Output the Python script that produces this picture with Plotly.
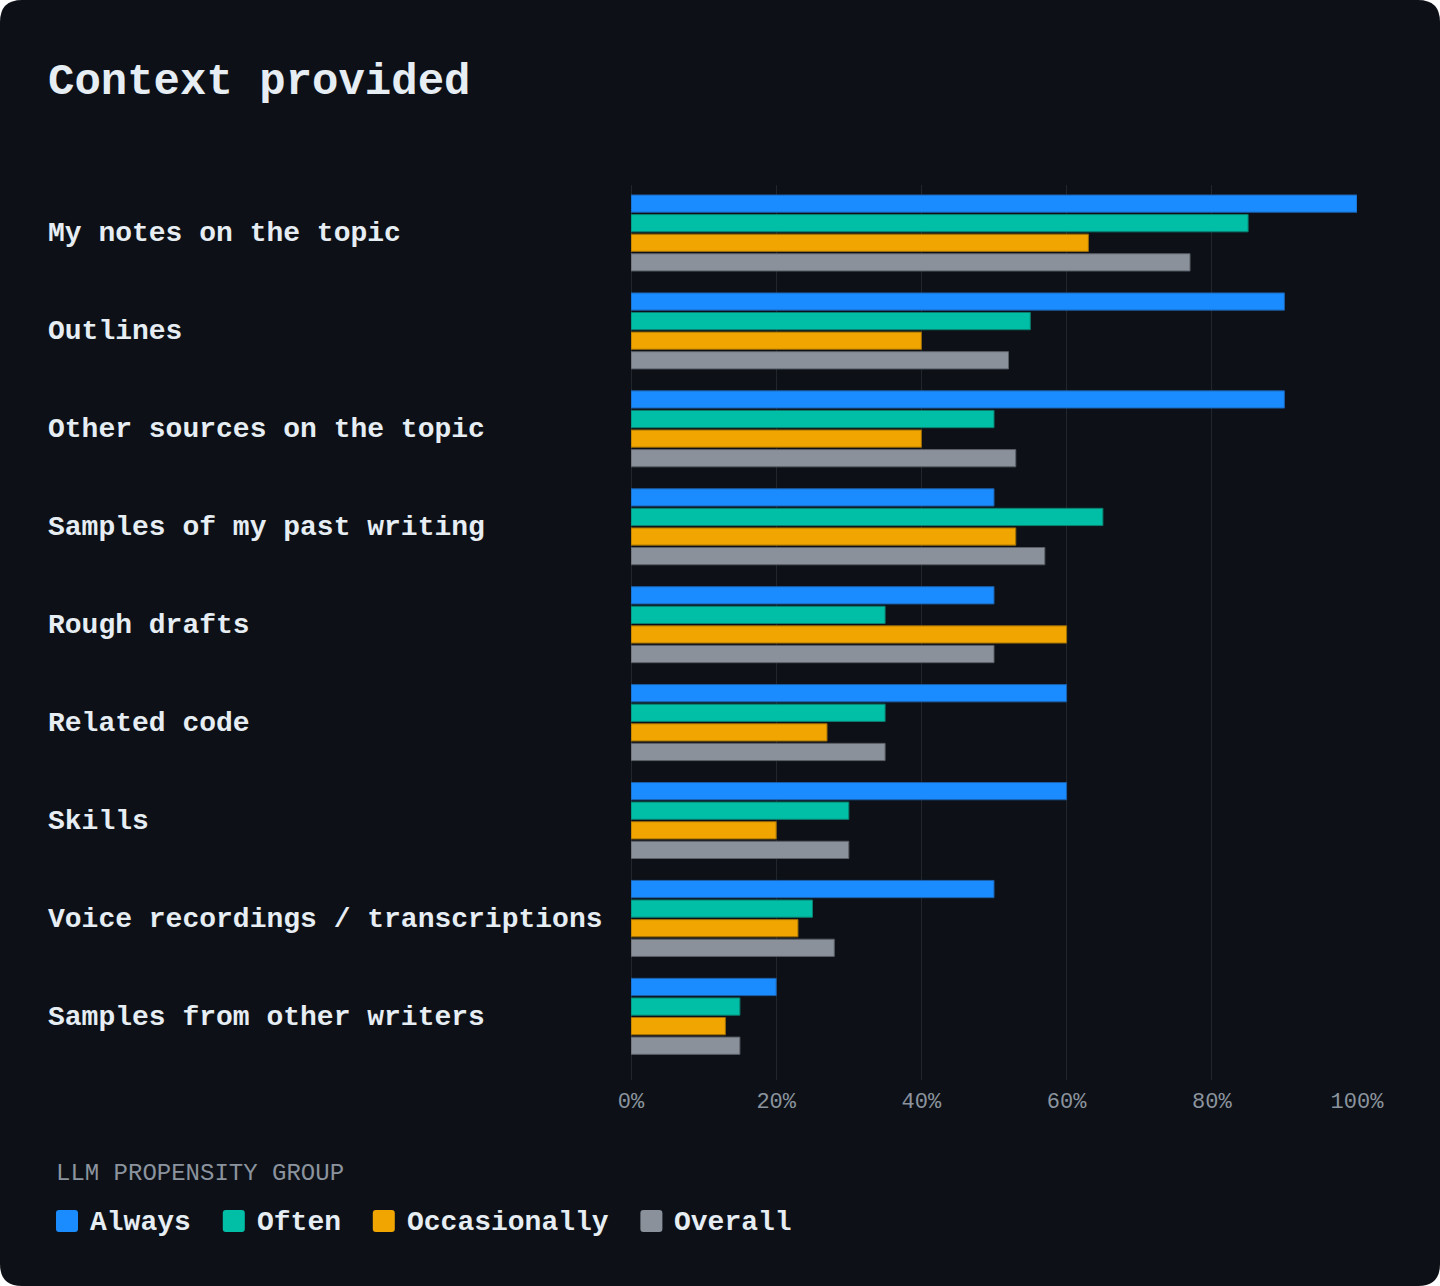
import plotly.graph_objects as go

W, H = 1440, 1286

categories = [
    "My notes on the topic",
    "Outlines",
    "Other sources on the topic",
    "Samples of my past writing",
    "Rough drafts",
    "Related code",
    "Skills",
    "Voice recordings / transcriptions",
    "Samples from other writers",
]
series_names = ["Always", "Often", "Occasionally", "Overall"]
always = [100, 90, 90, 50, 50, 60, 60, 50, 20]
often = [85, 55, 50, 65, 35, 35, 30, 25, 15]
occasionally = [63, 40, 40, 53, 60, 27, 20, 23, 13]
overall = [77, 52, 53, 57, 50, 35, 30, 28, 15]
x_ticks = [0, 20, 40, 60, 80, 100]
x_tick_text = [f"{v}%" for v in x_ticks]

colors = ["#1a8cff", "#00bfa6", "#f0a500", "#8b919b"]
edge_colors = ["#1d5fa8", "#0b7f6f", "#9c6c05", "#5a5f67"]

BG = "#0d1117"
TEXT = "#e6edf3"
MUTED = "#8b949e"
GRID = "#21262d"
FONT = "Courier New, Courier, Nimbus Mono PS, Liberation Mono, monospace"


def px(x):
    return x / W


def py(y):
    return 1 - y / H


def rrect(x0, y0, x1, y1, r):
    rx, ry = r / W, r / H
    X0, X1 = px(x0), px(x1)
    Y0, Y1 = py(y1), py(y0)  # bottom, top in paper
    return (
        f"M{X0+rx},{Y0} L{X1-rx},{Y0} Q{X1},{Y0} {X1},{Y0+ry} "
        f"L{X1},{Y1-ry} Q{X1},{Y1} {X1-rx},{Y1} L{X0+rx},{Y1} "
        f"Q{X0},{Y1} {X0},{Y1-ry} L{X0},{Y0+ry} Q{X0},{Y0} {X0+rx},{Y0} Z"
    )


fig = go.Figure()
for name, vals, c, ec in zip(series_names, [always, often, occasionally, overall], colors, edge_colors):
    fig.add_trace(go.Bar(
        name=name, x=vals, y=categories, orientation="h",
        marker=dict(color=c, line=dict(color=ec, width=1)),
        showlegend=False,
    ))

shapes = [dict(type="path", xref="paper", yref="paper", path=rrect(0, 0, W, H, 22),
               fillcolor=BG, line=dict(width=0), layer="below")]
annotations = []

# Title
annotations.append(dict(text="<b>Context provided</b>", x=px(46), y=py(82), xref="paper", yref="paper",
                        xanchor="left", yanchor="middle", showarrow=False,
                        font=dict(family=FONT, size=44, color=TEXT)))

# Category labels, left-aligned
for cat in categories:
    annotations.append(dict(text=f"<b>{cat}</b>", x=px(46), y=cat, xref="paper", yref="y",
                            xanchor="left", yanchor="middle", showarrow=False, yshift=-1,
                            font=dict(family=FONT, size=28, color=TEXT)))

# Custom legend
annotations.append(dict(text="LLM PROPENSITY GROUP", x=px(54), y=py(1173), xref="paper", yref="paper",
                        xanchor="left", yanchor="middle", showarrow=False,
                        font=dict(family=FONT, size=24, color=MUTED)))
lx = 56
char_w = 16.8
for name, c in zip(series_names, colors):
    shapes.append(dict(type="path", xref="paper", yref="paper", path=rrect(lx, 1210, lx + 22, 1232, 3),
                       fillcolor=c, line=dict(width=0)))
    tx = lx + 32
    annotations.append(dict(text=f"<b>{name}</b>", x=px(tx), y=py(1222), xref="paper", yref="paper",
                            xanchor="left", yanchor="middle", showarrow=False,
                            font=dict(family=FONT, size=28, color=TEXT)))
    lx = tx + 1 + len(name) * char_w + 33

fig.update_layout(
    width=W, height=H, autosize=False,
    margin=dict(l=0, r=0, t=0, b=0, pad=0),
    paper_bgcolor="#ffffff",
    plot_bgcolor="rgba(0,0,0,0)",
    barmode="group", bargap=0.2, bargroupgap=0.12,
    shapes=shapes, annotations=annotations,
    xaxis=dict(domain=[px(631), px(1357)], range=[0, 100], tickmode="array",
               tickvals=x_ticks, ticktext=x_tick_text, automargin=False, ticklabelstandoff=5,
               showgrid=True, gridcolor=GRID, gridwidth=1, zeroline=True, zerolinecolor=GRID,
               zerolinewidth=1, showline=False, ticks="",
               tickfont=dict(family=FONT, size=22, color=MUTED), fixedrange=True),
    yaxis=dict(domain=[py(1080), py(185)], range=[8.65, -0.49], showticklabels=False,
               automargin=False, showgrid=False, zeroline=False, showline=False, ticks="",
               fixedrange=True),
    showlegend=False,
)

fig.write_html(
    "out.html",
    config={"responsive": False, "displayModeBar": False},
    post_script="document.documentElement.style.margin='0';document.body.style.margin='0';"
                "document.documentElement.style.overflow='hidden';document.body.style.overflow='hidden';",
)
